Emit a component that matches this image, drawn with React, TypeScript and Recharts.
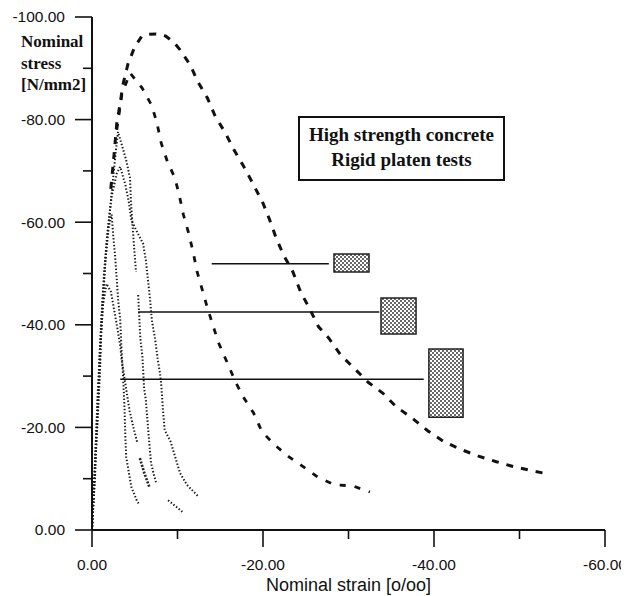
import React from 'react'
import { LineChart, Line, XAxis, YAxis, ReferenceArea } from 'recharts'

// strain [o/oo] and stress [N/mm2], both negative (compression)
// the two dashed curves only show once they leave the dotted bundle near the axis
const peakCurveA: [number, number][] = [
  [-2.2, -66.5], [-2.6, -73.5], [-2.9, -79.3], [-3.3, -83.2], [-3.6, -86.7], [-4.2, -90.8],
  [-5.0, -94.2], [-5.8, -96.2], [-6.5, -96.6], [-7.5, -96.7], [-8.6, -96.3], [-9.5, -95.2],
  [-10.3, -93.6], [-11.5, -90.6], [-12.4, -87.3], [-13.5, -84.2], [-14.4, -80.7], [-15.6, -77.4],
  [-16.6, -74.1], [-17.7, -71.0], [-18.8, -67.6], [-20.0, -63.7], [-20.7, -60.8], [-21.5, -57.1],
  [-22.4, -53.6], [-23.5, -50.3], [-24.4, -46.4], [-25.4, -43.3], [-26.5, -39.6], [-27.7, -37.4],
  [-29.1, -34.1], [-30.5, -31.8], [-32.3, -28.8], [-34.0, -26.7], [-35.6, -24.0], [-37.3, -22.0],
  [-39.3, -19.3], [-41.1, -17.3], [-43.0, -15.8], [-45.2, -14.4], [-47.3, -13.3], [-49.4, -12.3],
  [-51.6, -11.5], [-53.4, -10.9],
]

const peakCurveB: [number, number][] = [
  [-2.9, -78], [-3.5, -85], [-4.45, -89.1], [-5.85, -86.2], [-7.0, -82.7], [-7.6, -79.3],
  [-8.1, -75.4], [-8.8, -71.9], [-9.7, -68.6], [-10.2, -65.3], [-10.7, -61.4], [-11.3, -57.9],
  [-11.85, -54.0], [-12.3, -50.3], [-12.9, -46.8], [-13.5, -43.3], [-14.2, -39.6], [-14.8, -36.5],
  [-15.8, -32.7], [-16.8, -28.8], [-17.7, -25.9], [-18.9, -22.8], [-19.9, -19.1], [-21.5, -16.4],
  [-23.0, -14.3], [-24.4, -12.7], [-26.4, -10.3], [-28.4, -8.8], [-30.5, -8.6], [-32.5, -7.4],
]

const dotCurve1: [number, number | null][] = [
  [0, 0], [-0.12, -4], [-0.35, -10], [-0.47, -16], [-0.7, -23], [-0.94, -31], [-1.05, -37],
  [-1.3, -45], [-1.5, -51], [-1.75, -56.5], [-2.1, -62.4], [-2.45, -68.2], [-2.8, -74],
  [-3.04, -77.6], [-3.5, -75.0], [-4.0, -72.1], [-4.45, -68.6], [-4.55, -64.3], [-4.7, -60.4],
  [-4.9, -55.6], [-5.15, -50.3],
]

const dotCurve2: [number, number | null][] = [
  [0, 0], [-0.2, -7], [-0.45, -17], [-0.75, -28], [-1.05, -40], [-1.4, -50], [-1.8, -58],
  [-2.3, -65], [-2.9, -69.5], [-3.3, -70.8], [-3.9, -67.3], [-4.3, -64.0], [-4.6, -60.4],
  [-5.3, -58.0], [-5.96, -55.9], [-6.3, -52.6], [-6.55, -48.7], [-6.8, -44.8], [-7.0, -40.9],
  [-7.4, -37.0], [-7.7, -33.1], [-7.95, -30.6], [-8.1, -28.3], [-8.3, -23.4], [-8.5, -19.5],
  [-9.2, -17.2], [-10.3, -11.1], [-11.1, -8.8], [-12.4, -6.6],
]

const dotCurve3: [number, number | null][] = [
  [0, 0], [-0.25, -8], [-0.55, -18], [-0.85, -30], [-1.15, -42], [-1.55, -52], [-1.95, -59],
  [-2.3, -61.5], [-2.5, -57.0], [-2.7, -53.5], [-2.9, -48.7], [-3.05, -45.0], [-3.3, -41.0],
  [-3.4, -37.2], [-3.5, -33.5], [-3.6, -31.8], [-3.9, -28.5], [-4.4, -23.2], [-4.9, -19.6],
  [-5.3, -17.0],
]

const dotCurve4: [number, number | null][] = [
  [0, 0], [-0.15, -6], [-0.4, -15], [-0.65, -26], [-0.95, -36], [-1.3, -44], [-1.7, -48],
  [-2.2, -46.5], [-2.8, -41], [-3.3, -36.0], [-3.6, -31.0], [-3.8, -24.0], [-3.9, -18.1],
  [-4.0, -14.2], [-4.6, -8.4], [-5.3, -5.5], [-5.6, -4.9],
]

const dotCurve5: [number, number | null][] = [
  [-5.4, -45.8], [-5.5, -42.5], [-5.65, -37.4], [-5.9, -33.7], [-6.1, -27.5], [-6.3, -25.3],
  [-6.6, -19.0], [-6.9, -13.1], [-7.2, -11.0], [-7.5, -9.2], [-8.2, null], [-8.9, -5.8],
  [-9.8, -4.6], [-10.6, -3.5],
]

const dotCurve6: [number, number | null][] = [[-5.6, -14.0], [-6.1, -11.2], [-6.7, -8.4]]

// horizontal markers and the shaded boxes at their ends
const markerLines: [number, number, number][] = [
  [-14.0, -27.7, -51.9],
  [-5.4, -33.6, -42.5],
  [-3.3, -38.8, -29.4],
]
const boxStrain: [number, number][] = [[-28.3, -32.4], [-33.8, -37.9], [-39.4, -43.4]]
const boxStress: [number, number][] = [[-53.8, -50.3], [-45.2, -38.2], [-35.3, -22.0]]

const strainTicks = [0, -10, -20, -30, -40, -50, -60]
const stressTicks = [0, -10, -20, -30, -40, -50, -60, -70, -80, -90, -100]

const toPts = (arr: [number, number | null][]) => arr.map(([x, y]) => ({ x, y }))

const XTick = (props: any) => {
  const { x, y, payload } = props
  const v = payload.value
  const major = v % 20 === 0
  return (
    <g>
      <line x1={x} y1={y} x2={x} y2={y + (major ? 17 : 9)} stroke="#111" strokeWidth={1.6} />
      {major && (
        <text x={x} y={y + 35} dy="0.35em" textAnchor="middle" fontSize={15.5} fill="#111"
          fontFamily="'Liberation Sans', Arial, sans-serif">
          {v.toFixed(2)}
        </text>
      )}
    </g>
  )
}

const YTick = (props: any) => {
  const { x, y, payload } = props
  const v = payload.value
  const major = v % 20 === 0
  return (
    <g>
      <line x1={x - (major ? 17 : 9)} y1={y} x2={x} y2={y} stroke="#111" strokeWidth={1.6} />
      {major && (
        <text x={x - 27} y={y} dy="0.35em" textAnchor="end" fontSize={15.5} fill="#111"
          fontFamily="'Liberation Sans', Arial, sans-serif">
          {v.toFixed(2)}
        </text>
      )}
    </g>
  )
}

const dotStyle = { stroke: '#1a1a1a', strokeWidth: 2, strokeDasharray: '1.4 2' }

export default function App() {
  return (
    <div style={{ position: 'relative', width: 621, height: 588, background: '#fff' }}>
      <svg width={0} height={0} style={{ position: 'absolute' }}>
        <defs>
          <pattern id="stipple" width={4} height={4} patternUnits="userSpaceOnUse">
            <rect width={4} height={4} fill="#fff" />
            <circle cx={1} cy={1} r={0.9} fill="#222" />
            <circle cx={3} cy={3} r={0.9} fill="#222" />
          </pattern>
        </defs>
      </svg>
      <LineChart width={621} height={588} margin={{ top: 9, right: 24, bottom: 0, left: 0 }}>
        <XAxis
          dataKey="x"
          type="number"
          domain={[-60, 0]}
          reversed
          ticks={strainTicks}
          interval={0}
          tickSize={0}
          tickMargin={0}
          height={66}
          axisLine={{ stroke: '#111', strokeWidth: 2 }}
          tickLine={false}
          tick={<XTick />}
          allowDuplicatedCategory={false}
        />
        <YAxis
          type="number"
          domain={[-100, 0]}
          reversed
          ticks={stressTicks}
          interval={0}
          tickSize={0}
          tickMargin={0}
          width={84}
          axisLine={{ stroke: '#111', strokeWidth: 2 }}
          tickLine={false}
          tick={<YTick />}
        />
        {boxStrain.map((bx, i) => (
          <ReferenceArea
            key={'box' + i}
            x1={bx[0]}
            x2={bx[1]}
            y1={boxStress[i][0]}
            y2={boxStress[i][1]}
            fill="url(#stipple)"
            fillOpacity={1}
            stroke="#222"
            strokeWidth={1.5}
          />
        ))}
        {markerLines.map(([xa, xb, y], i) => (
          <Line
            key={'mark' + i}
            data={[{ x: xa, y }, { x: xb, y }]}
            dataKey="y"
            type="linear"
            stroke="#111"
            strokeWidth={1.6}
            dot={false}
            activeDot={false}
            isAnimationActive={false}
          />
        ))}
        <Line data={toPts(peakCurveA)} dataKey="y" type="linear" stroke="#111" strokeWidth={3}
          strokeDasharray="7 8" dot={false} activeDot={false} isAnimationActive={false} />
        <Line data={toPts(peakCurveB)} dataKey="y" type="linear" stroke="#111" strokeWidth={2.8}
          strokeDasharray="6 9" dot={false} activeDot={false} isAnimationActive={false} />
        {[dotCurve1, dotCurve2, dotCurve3, dotCurve4, dotCurve5].map((c, i) => (
          <Line key={'dot' + i} data={toPts(c)} dataKey="y" type="linear" {...dotStyle}
            dot={false} activeDot={false} isAnimationActive={false} />
        ))}
        <Line data={toPts(dotCurve6)} dataKey="y" type="linear" stroke="#222" strokeWidth={2.6}
          strokeDasharray="2 1.5" dot={false} activeDot={false} isAnimationActive={false} />
      </LineChart>

      <div style={{ position: 'absolute', left: 13, top: 23, fontFamily: "'Liberation Serif', 'Times New Roman', serif",
        fontWeight: 'bold', fontSize: 17, lineHeight: '21.5px', color: '#111' }}>
        Nominal<br />stress<br />[N/mm2]
      </div>

      <div style={{ position: 'absolute', left: 290, top: 108, width: 207, height: 65, boxSizing: 'border-box',
        border: '2px solid #111', background: '#fff', paddingTop: 4, textAlign: 'center',
        fontFamily: "'Liberation Serif', 'Times New Roman', serif", fontWeight: 'bold', fontSize: 19,
        lineHeight: '25px', color: '#111' }}>
        High strength concrete<br />Rigid platen tests
      </div>

      <div style={{ position: 'absolute', left: 84, width: 513, top: 567, textAlign: 'center',
        fontFamily: "'Liberation Sans', Arial, sans-serif", fontSize: 18, lineHeight: '20px', color: '#111' }}>
        Nominal strain [o/oo]
      </div>
    </div>
  )
}
